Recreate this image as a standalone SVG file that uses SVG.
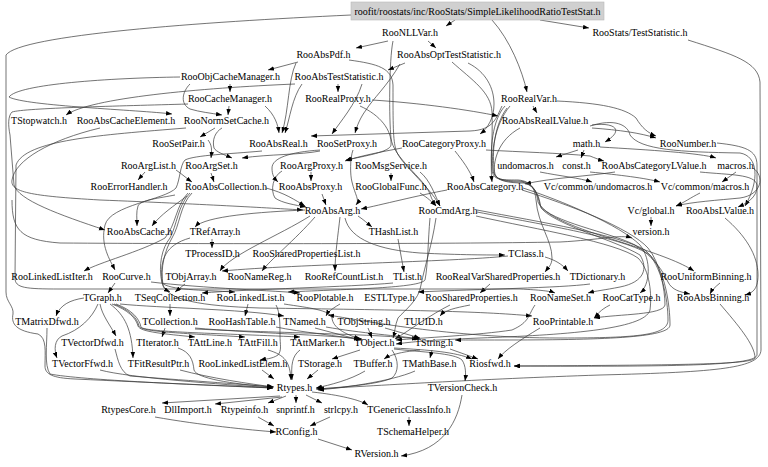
<svg xmlns="http://www.w3.org/2000/svg" width="768" height="467" viewBox="0 0 768 467">
<style>
.t{font-family:"Liberation Serif","Times New Roman",serif;font-size:10px;text-anchor:middle;fill:#000}
.e path{fill:none;stroke:#383838;stroke-width:0.7;marker-end:url(#ah)}
</style>
<defs>
<marker id="ah" markerUnits="userSpaceOnUse" markerWidth="6" markerHeight="5" refX="6" refY="2.25" orient="auto">
<path d="M0,0 L6,2.25 L0,4.5 z" fill="#000"/>
</marker>
</defs>
<rect width="768" height="467" fill="#fff"/>
<g id="edges" class="e">
<path d="M455,20 L446,26"/>
<path d="M540,20 L589,28"/>
<path d="M492,20 C510,40 522,70 527,92"/>
<path d="M351,15 C200,22 20,35 6,55 L6,292 C6,302 14,306 13,314 C11,324 16,331 38,334 C47,338 45,352 45,366 C45,374 52,378 75,379 C160,383 230,386 273,388"/>
<path d="M688,40 C735,55 758,62 760,82 L761,350 C760,368 720,372 600,375 C480,379 370,386 316,389"/>
<path d="M388,41 L356,48"/>
<path d="M428,41 L436,48"/>
<path d="M393,41 C389,60 389,120 391,138 C393,158 424,178 430,194 C432,200 434,203 436,206"/>
<path d="M298,62 L268,70"/>
<path d="M296,63 C288,80 289,110 282,133"/>
<path d="M349,60 C378,64 392,68 393,85 C393,125 393,140 396,150 C401,165 427,183 440,206"/>
<path d="M405,63 L388,70"/>
<path d="M400,64 C388,85 372,100 366,110 C360,118 357,126 355,133"/>
<path d="M468,63 C486,72 494,88 494,104 C494,118 488,128 480,134"/>
<path d="M452,62 C472,80 491,92 492,112 C493,140 490,162 492,182"/>
<path d="M338,84 L338,92"/>
<path d="M302,84 C292,98 290,118 285,133"/>
<path d="M362,84 C356,104 340,122 332,134"/>
<path d="M295,84 C200,88 90,98 66,115"/>
<path d="M230,84 L230,92"/>
<path d="M180,77 C110,78 18,84 9,97 C25,106 140,110 172,114"/>
<path d="M190,84 C182,92 180,104 190,109 C200,112 210,113 222,115"/>
<path d="M229,106 L228,115"/>
<path d="M265,106 C275,115 278,125 279,133"/>
<path d="M188,104 C120,106 25,108 12,112 C8,116 8,125 10,135 L14,185 C18,200 60,215 105,230"/>
<path d="M372,100 C420,103 470,110 498,116"/>
<path d="M502,106 C496,118 494,130 470,131 L311,136"/>
<path d="M533,106 L537,113"/>
<path d="M557,101 C600,103 625,108 636,118 C642,128 648,133 656,136"/>
<path d="M592,128 C620,130 640,133 656,138"/>
<path d="M592,125 C615,122 625,130 605,142"/>
<path d="M590,126 C615,118 628,125 630,135 C640,150 680,152 740,153 C758,156 760,180 745,206"/>
<path d="M717,143 C745,146 757,150 757,165 L757,355 C755,365 690,367 514,366"/>
<path d="M215,128 L200,137"/>
<path d="M222,128 C215,132 212,140 214,148 C216,152 225,155 232,158"/>
<path d="M208,140 C212,145 212,150 211,158"/>
<path d="M320,151 C300,155 270,154 242,158"/>
<path d="M186,128 C100,135 25,140 16,165 L15,278 C15,288 25,289 60,289 L520,289 C540,290 550,291 555,293"/>
<path d="M100,128 C50,140 15,160 12,180 C10,192 30,196 100,200 C200,204 270,208 303,210"/>
<path d="M262,151 C230,154 195,155 185,160 C180,165 180,180 176,188 C165,200 110,205 105,225 C100,245 110,260 115,270"/>
<path d="M211,173 L214,182"/>
<path d="M145,172 L138,180"/>
<path d="M176,170 C182,174 186,178 192,182"/>
<path d="M266,188 C285,193 295,200 305,206"/>
<path d="M187,196 C175,205 160,215 152,226"/>
<path d="M175,195 C160,198 140,200 138,206 C136,212 137,218 137,226"/>
<path d="M190,193 C178,205 177,225 170,238 C162,248 158,265 162,283 C170,290 200,290 235,292"/>
<path d="M188,193 C176,205 176,225 165,238 C140,252 100,262 84,271"/>
<path d="M192,193 C180,205 180,225 172,238 C165,250 160,268 163,285 C168,300 200,306 260,308 C400,310 480,311 532,316"/>
<path d="M305,210 C260,212 205,216 195,227"/>
<path d="M310,216 C280,235 230,255 220,271"/>
<path d="M340,217 C338,235 335,255 335,271"/>
<path d="M315,217 C295,240 270,260 262,271"/>
<path d="M358,216 C364,220 367,223 372,227"/>
<path d="M212,239 L212,248"/>
<path d="M190,238 C165,245 160,260 162,280 C162,288 166,290 170,292"/>
<path d="M185,284 L175,292"/>
<path d="M398,239 L404,272"/>
<path d="M393,283 C350,287 250,289 202,293"/>
<path d="M545,257 C555,260 562,264 568,271"/>
<path d="M508,256 C450,262 300,264 222,271"/>
<path d="M345,218 C350,240 380,250 420,253 C460,255 490,255 505,255"/>
<path d="M12,200 C12,230 20,240 60,243 C200,244 450,244 560,242 C600,240 620,234 632,238"/>
<path d="M311,172 L311,181"/>
<path d="M282,171 C273,176 270,190 275,198 C282,203 295,205 306,207"/>
<path d="M320,150 C290,152 272,158 272,168 C272,175 274,178 278,182"/>
<path d="M402,148 C380,152 360,156 345,161"/>
<path d="M360,106 C380,115 392,130 391,145 C390,152 365,156 346,160"/>
<path d="M322,194 L326,205"/>
<path d="M455,151 C462,160 470,170 474,182"/>
<path d="M391,173 L391,181"/>
<path d="M420,172 C430,180 435,195 440,206"/>
<path d="M420,193 C428,198 432,202 436,206"/>
<path d="M353,150 C350,158 350,175 352,182 C355,195 360,200 356,205"/>
<path d="M447,190 C420,195 380,205 361,209"/>
<path d="M430,218 C428,240 428,265 425,280 C420,288 350,289 288,292"/>
<path d="M436,218 C432,245 425,265 421,285 C419,300 405,310 398,318 C395,325 395,332 393,338"/>
<path d="M486,150 C520,152 560,153 590,156 C595,158 600,160 604,161"/>
<path d="M615,172 C590,176 550,178 525,184"/>
<path d="M700,172 C730,175 755,174 757,185 C758,198 745,204 738,207"/>
<path d="M578,150 L556,157"/>
<path d="M584,150 L581,158"/>
<path d="M600,147 C650,150 700,153 716,158"/>
<path d="M540,172 C560,176 580,178 592,182"/>
<path d="M736,172 L722,182"/>
<path d="M590,172 C620,175 645,178 660,182"/>
<path d="M700,193 C690,198 685,202 676,206"/>
<path d="M753,168 C765,176 762,195 740,198 C720,200 690,202 676,206"/>
<path d="M651,217 L651,226"/>
<path d="M523,188 C560,200 620,225 640,245 C652,260 650,285 640,293"/>
<path d="M477,210 C540,222 620,235 645,250 C662,265 668,300 668,320 C668,335 640,338 560,338 C450,338 360,320 328,315"/>
<path d="M477,212 C545,225 625,238 650,255 C665,270 670,305 670,325 C670,338 600,340 500,340 C470,340 460,340 455,340"/>
<path d="M522,190 C570,205 630,228 648,248 C660,262 665,290 665,305 C663,315 620,314 594,318"/>
<path d="M476,216 C540,230 615,242 638,258 C650,270 652,295 650,310 C645,330 560,335 480,338 C430,340 410,342 396,344"/>
<path d="M505,106 C492,120 490,150 492,170 C493,180 500,180 518,180 C532,181 535,190 536,200 C538,225 552,240 552,258 C552,265 548,268 545,272"/>
<path d="M510,106 C494,125 491,155 493,170 C494,179 502,181 520,181 C533,182 537,192 538,202 C545,220 600,235 630,245 C660,255 680,262 694,271"/>
<path d="M520,128 C498,140 494,160 494,172 C495,180 505,182 522,182 C534,184 538,195 540,205 C550,222 610,232 635,245 C655,258 662,270 668,282 C672,290 680,292 690,294"/>
<path d="M507,108 C492,128 492,160 495,174 C497,181 508,183 524,183 C536,186 539,196 541,208 C555,225 615,240 640,255 C648,268 645,282 620,287 C605,290 595,291 588,293"/>
<path d="M725,218 C745,235 758,255 758,275 C758,290 752,293 745,295"/>
<path d="M720,283 C715,287 712,290 710,294"/>
<path d="M720,304 C738,325 755,345 755,358 C752,364 700,365 514,366"/>
<path d="M540,328 C520,340 505,350 498,359"/>
<path d="M535,305 C528,315 530,322 512,330 C480,335 420,338 396,340"/>
<path d="M610,305 C600,310 598,314 594,318"/>
<path d="M470,305 C455,308 445,310 440,316"/>
<path d="M450,305 C430,315 410,330 395,339"/>
<path d="M490,284 L480,293"/>
<path d="M590,284 C560,288 480,289 418,292"/>
<path d="M115,283 L108,293"/>
<path d="M151,282 C200,288 280,291 300,293"/>
<path d="M170,304 L170,316"/>
<path d="M195,328 C250,333 330,335 362,339"/>
<path d="M165,328 L162,337"/>
<path d="M195,329 C280,333 380,334 418,339"/>
<path d="M248,304 L245,316"/>
<path d="M276,305 C280,312 280,325 280,335 C280,345 282,350 278,355 C272,359 265,359 260,360"/>
<path d="M284,304 C310,308 330,310 332,318 C333,328 345,334 360,339"/>
<path d="M276,327 C300,332 340,336 362,340"/>
<path d="M315,328 L360,340"/>
<path d="M326,327 C360,333 400,336 420,339"/>
<path d="M368,328 L372,338"/>
<path d="M385,328 L420,338"/>
<path d="M340,304 C330,310 328,312 326,316"/>
<path d="M120,304 C160,308 240,309 284,316"/>
<path d="M112,304 C128,310 136,318 138,326 C140,332 165,334 195,337"/>
<path d="M114,304 C130,310 137,318 139,326 C141,332 180,333 245,337"/>
<path d="M116,304 C132,310 139,318 141,327 C143,332 210,333 300,337"/>
<path d="M100,304 C102,315 110,325 116,336"/>
<path d="M98,304 C92,318 80,330 62,336 C54,340 54,350 57,358"/>
<path d="M110,304 C125,315 132,330 133,358"/>
<path d="M84,298 C70,300 60,305 56,316"/>
<path d="M47,328 C47,345 44,365 50,374 C80,380 200,385 273,388"/>
<path d="M115,349 C118,360 120,372 130,376 C180,380 240,384 273,387"/>
<path d="M100,370 C130,378 220,384 273,388"/>
<path d="M180,370 C210,378 250,384 274,387"/>
<path d="M178,348 C190,352 193,360 194,370 C196,378 230,384 273,387"/>
<path d="M262,370 L274,379"/>
<path d="M318,370 L307,379"/>
<path d="M268,350 C285,355 290,362 291,380"/>
<path d="M300,350 C292,356 291,365 292,380"/>
<path d="M392,350 C399,360 399,372 392,378 C380,384 345,387 318,389"/>
<path d="M394,349 C420,352 455,353 462,360 C466,366 466,374 465,381"/>
<path d="M394,348 C430,350 455,352 472,359"/>
<path d="M360,350 L332,359"/>
<path d="M432,350 L430,358"/>
<path d="M450,349 L478,359"/>
<path d="M420,350 C400,352 390,355 384,359"/>
<path d="M365,371 C350,380 330,385 316,388"/>
<path d="M415,371 C390,382 340,388 318,390"/>
<path d="M280,396 L162,403"/>
<path d="M282,397 L215,404"/>
<path d="M286,396 L268,403"/>
<path d="M296,395 L296,403"/>
<path d="M306,395 L322,403"/>
<path d="M312,392 C340,395 360,400 368,405"/>
<path d="M155,417 C200,425 250,430 276,432"/>
<path d="M258,417 L274,426"/>
<path d="M330,417 L310,426"/>
<path d="M318,439 L352,450"/>
<path d="M409,417 L409,426"/>
<path d="M462,395 C458,420 445,450 401,456"/>
</g>
<g id="root"><rect x="351" y="2" width="253" height="18" fill="#d0d0d0" stroke="#b8b8b8" stroke-width="0.6"/><text class="t" x="477.5" y="14.5">roofit/roostats/inc/RooStats/SimpleLikelihoodRatioTestStat.h</text></g>
<g id="n_RooNLLVar"><text class="t" x="410" y="36">RooNLLVar.h</text></g>
<g id="n_TestStatistic"><text class="t" x="640" y="36">RooStats/TestStatistic.h</text></g>
<g id="n_RooAbsPdf"><text class="t" x="323.5" y="58">RooAbsPdf.h</text></g>
<g id="n_RooAbsOptTestStatistic"><text class="t" x="449" y="58">RooAbsOptTestStatistic.h</text></g>
<g id="n_RooObjCacheManager"><text class="t" x="230.5" y="80">RooObjCacheManager.h</text></g>
<g id="n_RooAbsTestStatistic"><text class="t" x="339" y="80">RooAbsTestStatistic.h</text></g>
<g id="n_RooCacheManager"><text class="t" x="230" y="102">RooCacheManager.h</text></g>
<g id="n_RooRealProxy"><text class="t" x="338" y="102">RooRealProxy.h</text></g>
<g id="n_RooRealVar"><text class="t" x="529" y="102">RooRealVar.h</text></g>
<g id="n_TStopwatch"><text class="t" x="39" y="124">TStopwatch.h</text></g>
<g id="n_RooAbsCacheElement"><text class="t" x="126" y="124">RooAbsCacheElement.h</text></g>
<g id="n_RooNormSetCache"><text class="t" x="226.5" y="124">RooNormSetCache.h</text></g>
<g id="n_RooAbsRealLValue"><text class="t" x="545" y="124">RooAbsRealLValue.h</text></g>
<g id="n_RooSetPair"><text class="t" x="178.5" y="147">RooSetPair.h</text></g>
<g id="n_RooAbsReal"><text class="t" x="278.5" y="147">RooAbsReal.h</text></g>
<g id="n_RooSetProxy"><text class="t" x="347" y="147">RooSetProxy.h</text></g>
<g id="n_RooCategoryProxy"><text class="t" x="444" y="147">RooCategoryProxy.h</text></g>
<g id="n_math"><text class="t" x="586.5" y="147">math.h</text></g>
<g id="n_RooNumber"><text class="t" x="688" y="147">RooNumber.h</text></g>
<g id="n_RooArgList"><text class="t" x="148.5" y="169">RooArgList.h</text></g>
<g id="n_RooArgSet"><text class="t" x="211.5" y="169">RooArgSet.h</text></g>
<g id="n_RooArgProxy"><text class="t" x="311.5" y="169">RooArgProxy.h</text></g>
<g id="n_RooMsgService"><text class="t" x="391" y="169">RooMsgService.h</text></g>
<g id="n_undomacros"><text class="t" x="525.5" y="169">undomacros.h</text></g>
<g id="n_const"><text class="t" x="576.5" y="169">const.h</text></g>
<g id="n_RooAbsCategoryLValue"><text class="t" x="654" y="169">RooAbsCategoryLValue.h</text></g>
<g id="n_macros"><text class="t" x="735.5" y="169">macros.h</text></g>
<g id="n_RooErrorHandler"><text class="t" x="129" y="190">RooErrorHandler.h</text></g>
<g id="n_RooAbsCollection"><text class="t" x="226" y="190">RooAbsCollection.h</text></g>
<g id="n_RooAbsProxy"><text class="t" x="310.5" y="190">RooAbsProxy.h</text></g>
<g id="n_RooGlobalFunc"><text class="t" x="391" y="190">RooGlobalFunc.h</text></g>
<g id="n_RooAbsCategory"><text class="t" x="485" y="190">RooAbsCategory.h</text></g>
<g id="n_VcUndomacros"><text class="t" x="598" y="190">Vc/common/undomacros.h</text></g>
<g id="n_VcMacros"><text class="t" x="705" y="190">Vc/common/macros.h</text></g>
<g id="n_RooAbsArg"><text class="t" x="332.5" y="214">RooAbsArg.h</text></g>
<g id="n_RooCmdArg"><text class="t" x="448" y="214">RooCmdArg.h</text></g>
<g id="n_VcGlobal"><text class="t" x="651" y="214">Vc/global.h</text></g>
<g id="n_RooAbsLValue"><text class="t" x="720" y="214">RooAbsLValue.h</text></g>
<g id="n_RooAbsCache"><text class="t" x="139.5" y="235">RooAbsCache.h</text></g>
<g id="n_TRefArray"><text class="t" x="215" y="235">TRefArray.h</text></g>
<g id="n_THashList"><text class="t" x="393.5" y="235">THashList.h</text></g>
<g id="n_version"><text class="t" x="651" y="235">version.h</text></g>
<g id="n_TProcessID"><text class="t" x="212.5" y="257">TProcessID.h</text></g>
<g id="n_RooSharedPropertiesList"><text class="t" x="306.5" y="257">RooSharedPropertiesList.h</text></g>
<g id="n_TClass"><text class="t" x="526" y="257">TClass.h</text></g>
<g id="n_RooLinkedListIter"><text class="t" x="52" y="280">RooLinkedListIter.h</text></g>
<g id="n_RooCurve"><text class="t" x="126.5" y="280">RooCurve.h</text></g>
<g id="n_TObjArray"><text class="t" x="191" y="280">TObjArray.h</text></g>
<g id="n_RooNameReg"><text class="t" x="259.5" y="280">RooNameReg.h</text></g>
<g id="n_RooRefCountList"><text class="t" x="344" y="280">RooRefCountList.h</text></g>
<g id="n_TList"><text class="t" x="407.5" y="280">TList.h</text></g>
<g id="n_RooRealVarSharedProperties"><text class="t" x="498" y="280">RooRealVarSharedProperties.h</text></g>
<g id="n_TDictionary"><text class="t" x="597.5" y="280">TDictionary.h</text></g>
<g id="n_RooUniformBinning"><text class="t" x="706" y="280">RooUniformBinning.h</text></g>
<g id="n_TGraph"><text class="t" x="102.5" y="301">TGraph.h</text></g>
<g id="n_TSeqCollection"><text class="t" x="170" y="301">TSeqCollection.h</text></g>
<g id="n_RooLinkedList"><text class="t" x="250.5" y="301">RooLinkedList.h</text></g>
<g id="n_RooPlotable"><text class="t" x="325" y="301">RooPlotable.h</text></g>
<g id="n_ESTLType"><text class="t" x="389.5" y="301">ESTLType.h</text></g>
<g id="n_RooSharedProperties"><text class="t" x="471.5" y="301">RooSharedProperties.h</text></g>
<g id="n_RooNameSet"><text class="t" x="560.5" y="301">RooNameSet.h</text></g>
<g id="n_RooCatType"><text class="t" x="631.5" y="301">RooCatType.h</text></g>
<g id="n_RooAbsBinning"><text class="t" x="713" y="301">RooAbsBinning.h</text></g>
<g id="n_TMatrixDfwd"><text class="t" x="47" y="325">TMatrixDfwd.h</text></g>
<g id="n_TCollection"><text class="t" x="170" y="325">TCollection.h</text></g>
<g id="n_RooHashTable"><text class="t" x="242" y="325">RooHashTable.h</text></g>
<g id="n_TNamed"><text class="t" x="304.5" y="325">TNamed.h</text></g>
<g id="n_TObjString"><text class="t" x="364" y="325">TObjString.h</text></g>
<g id="n_TUUID"><text class="t" x="423.5" y="325">TUUID.h</text></g>
<g id="n_RooPrintable"><text class="t" x="563" y="325">RooPrintable.h</text></g>
<g id="n_TVectorDfwd"><text class="t" x="92.5" y="346">TVectorDfwd.h</text></g>
<g id="n_TIterator"><text class="t" x="157.5" y="346">TIterator.h</text></g>
<g id="n_TAttLine"><text class="t" x="210" y="346">TAttLine.h</text></g>
<g id="n_TAttFill"><text class="t" x="258" y="346">TAttFill.h</text></g>
<g id="n_TAttMarker"><text class="t" x="317.5" y="346">TAttMarker.h</text></g>
<g id="n_TObject"><text class="t" x="374.5" y="346">TObject.h</text></g>
<g id="n_TString"><text class="t" x="434" y="346">TString.h</text></g>
<g id="n_TVectorFfwd"><text class="t" x="82.5" y="367">TVectorFfwd.h</text></g>
<g id="n_TFitResultPtr"><text class="t" x="158.5" y="367">TFitResultPtr.h</text></g>
<g id="n_RooLinkedListElem"><text class="t" x="243" y="367">RooLinkedListElem.h</text></g>
<g id="n_TStorage"><text class="t" x="320" y="367">TStorage.h</text></g>
<g id="n_TBuffer"><text class="t" x="373" y="367">TBuffer.h</text></g>
<g id="n_TMathBase"><text class="t" x="429.5" y="367">TMathBase.h</text></g>
<g id="n_Riosfwd"><text class="t" x="490" y="367">Riosfwd.h</text></g>
<g id="n_Rtypes"><text class="t" x="294.5" y="391">Rtypes.h</text></g>
<g id="n_TVersionCheck"><text class="t" x="462.5" y="391">TVersionCheck.h</text></g>
<g id="n_RtypesCore"><text class="t" x="128.5" y="413">RtypesCore.h</text></g>
<g id="n_DllImport"><text class="t" x="188" y="413">DllImport.h</text></g>
<g id="n_Rtypeinfo"><text class="t" x="244.5" y="413">Rtypeinfo.h</text></g>
<g id="n_snprintf"><text class="t" x="295.5" y="413">snprintf.h</text></g>
<g id="n_strlcpy"><text class="t" x="341" y="413">strlcpy.h</text></g>
<g id="n_TGenericClassInfo"><text class="t" x="409" y="413">TGenericClassInfo.h</text></g>
<g id="n_RConfig"><text class="t" x="296.5" y="435">RConfig.h</text></g>
<g id="n_TSchemaHelper"><text class="t" x="413" y="435">TSchemaHelper.h</text></g>
<g id="n_RVersion"><text class="t" x="376.5" y="457">RVersion.h</text></g>
</svg>
